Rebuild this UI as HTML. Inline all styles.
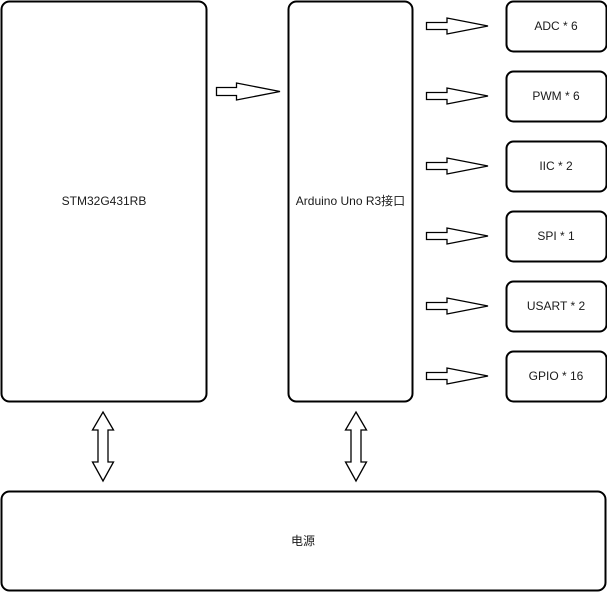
<!DOCTYPE html>
<html><head><meta charset="utf-8"><style>html,body{margin:0;padding:0;background:#fff}svg{display:block}</style></head>
<body>
<svg width="607" height="592" viewBox="0 0 607 592" xmlns="http://www.w3.org/2000/svg" font-family="'Liberation Sans','Noto Sans CJK SC',sans-serif" font-size="12" fill="#1a1a1a">
<g fill="#fff" stroke="#000" stroke-width="2">
<rect x="1.5" y="1.5" width="205" height="400" rx="8"/>
<rect x="288.5" y="1.5" width="124" height="400" rx="8"/>
<rect x="506.5" y="1.5" width="100" height="50" rx="7"/>
<rect x="506.5" y="71.5" width="100" height="50" rx="7"/>
<rect x="506.5" y="141.5" width="100" height="50" rx="7"/>
<rect x="506.5" y="211.5" width="100" height="50" rx="7"/>
<rect x="506.5" y="281.5" width="100" height="50" rx="7"/>
<rect x="506.5" y="351.5" width="100" height="50" rx="7"/>
<rect x="1.5" y="491.5" width="604" height="99" rx="8"/>
</g>
<g fill="#fff" stroke="#000" stroke-width="1.3">
<path d="M216.5 87.5 H236.5 V83 L280 91.5 L236.5 100 V95.5 H216.5 Z"/>
<g id="a"><path d="M426.5 22.5 H447 V18 L488 26 L447 34 V29.5 H426.5 Z"/></g>
<use href="#a" y="70"/><use href="#a" y="140"/><use href="#a" y="210"/><use href="#a" y="280"/><use href="#a" y="350"/>
<path id="v" d="M103 412 L113.5 430 H108 V462 H113.5 L103 481 L92.5 462 H98 V430 H92.5 Z"/>
<use href="#v" x="253"/>
</g>
<g text-anchor="middle">
<text x="104" y="205">STM32G431RB</text>
<text x="350.5" y="205">Arduino Uno R3接口</text>
<text x="556" y="30">ADC * 6</text>
<text x="556" y="100">PWM * 6</text>
<text x="556" y="170">IIC * 2</text>
<text x="556" y="240">SPI * 1</text>
<text x="556" y="310">USART * 2</text>
<text x="556" y="380">GPIO * 16</text>
<text x="303" y="545">电源</text>
</g>
</svg>
</body></html>
